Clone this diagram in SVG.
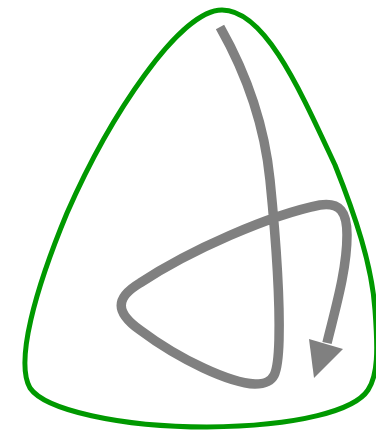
<svg xmlns="http://www.w3.org/2000/svg" width="376" height="435" viewBox="0 0 376 435">
<style>
.outline{fill:none;stroke:#009900;stroke-width:5}
.route{fill:none;stroke:#808080;stroke-width:9.5;stroke-linejoin:round}
.head{fill:#808080}
</style>
<rect width="376" height="435" fill="#ffffff"/>
<g id="region">
<path class="outline" d="M 222 10 C 265 10 300 90 335 165 C 355 215 372 265 375 310 C 378 350 378 375 368 390 C 355 410 300 426 207 427 C 120 427 45 410 30 388 C 15 362 35 290 67 213 C 110 115 180 10 222 10 Z"/>
</g>
<g id="connectors">
<path class="route" d="M 220 27 C 250 80 265 130 270 180 C 276 240 280 300 279 340 C 278 375 275 384 255 384 C 230 383 180 360 140 330 C 115 312 115 298 140 283 C 190 250 270 215 320 205 C 340 202 347 212 347 235 C 347 270 335 310 327 343"/>
<polygon class="head" points="314,378 309,339 343,349"/>
</g>
</svg>
